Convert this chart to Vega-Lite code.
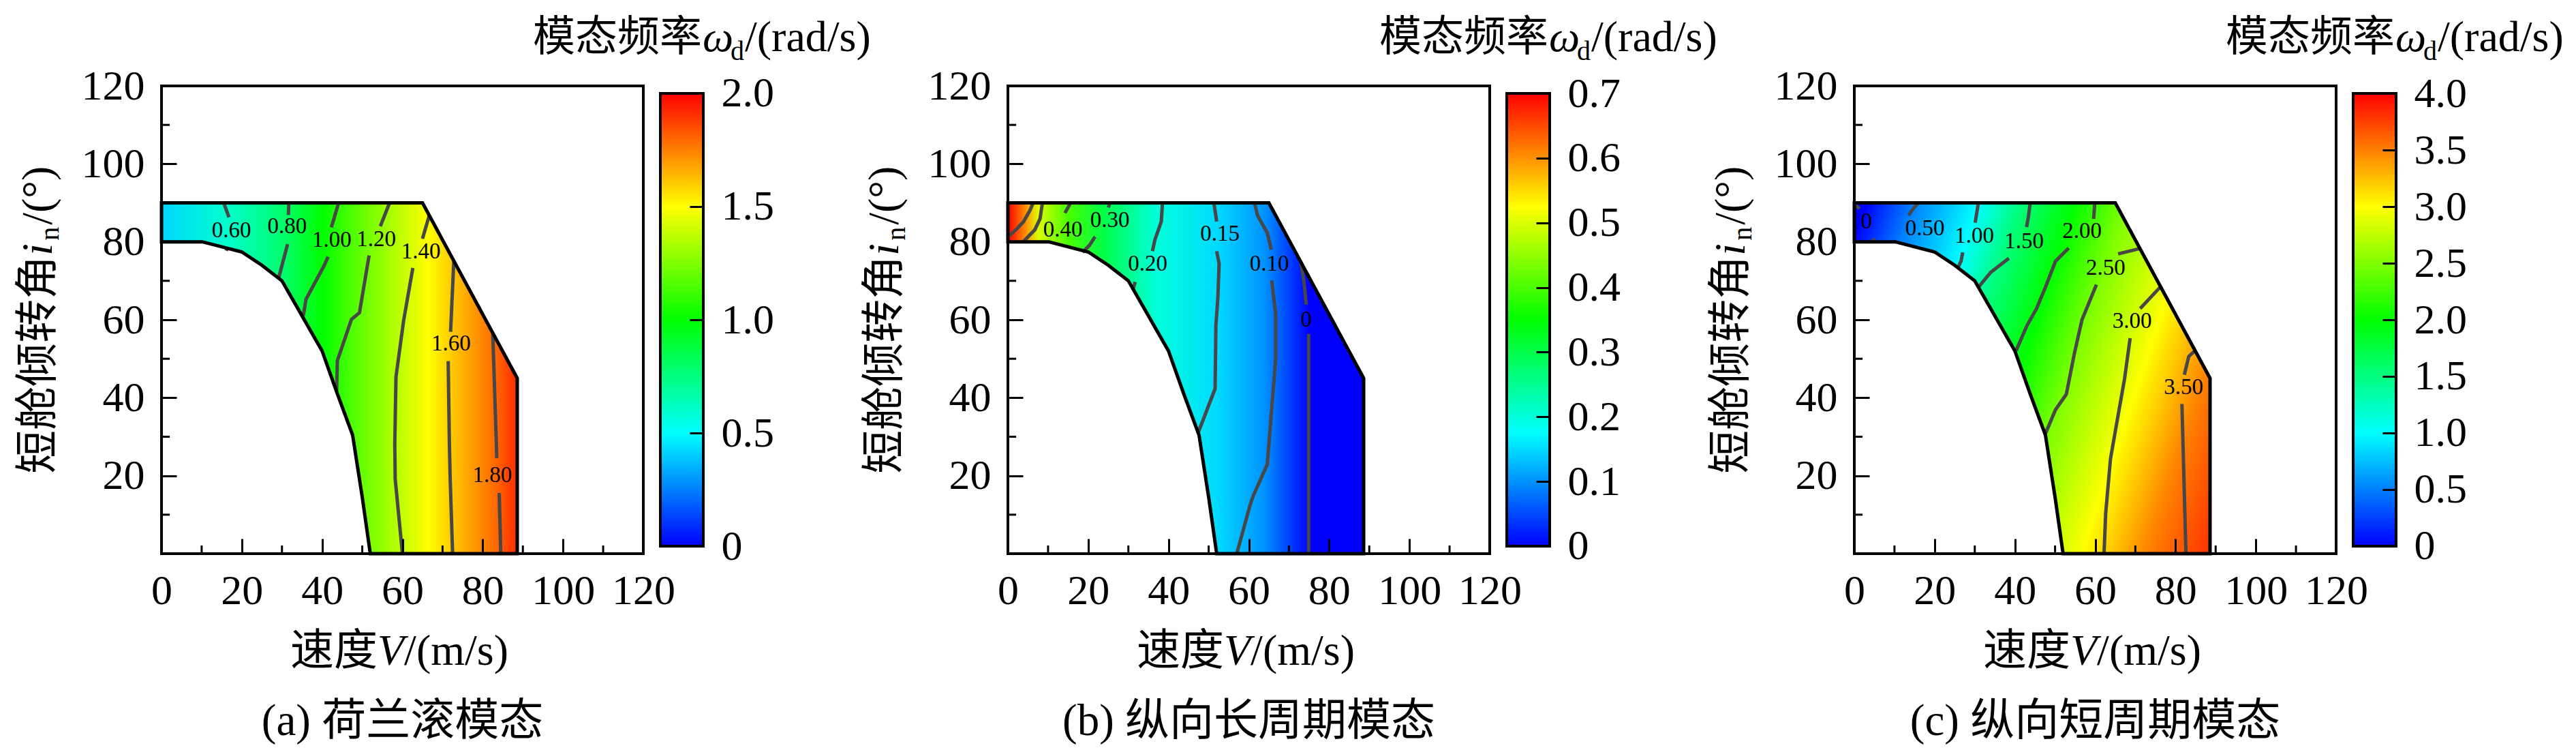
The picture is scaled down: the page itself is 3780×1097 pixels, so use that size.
{
"$schema": "https://vega.github.io/schema/vega-lite/v6.json",
"autosize": {"type": "pad"},
"padding": {"left": 23, "top": 22, "right": 5, "bottom": 5},
"background": "white",
"datasets": {
"boundary": [
{"x":0,"top":90,"bot":80},{"x":10.2,"top":90,"bot":80},{"x":20,"top":90,"bot":77.4},{"x":25,"top":90,"bot":74},{"x":30,"top":90,"bot":70},{"x":35,"top":90,"bot":61},{"x":40,"top":90,"bot":52},{"x":43.8,"top":90,"bot":41},{"x":47.6,"top":90,"bot":30.4},{"x":50,"top":90,"bot":14.5},{"x":52,"top":90,"bot":0},{"x":65,"top":90,"bot":0},{"x":88.6,"top":45,"bot":0}
],
"minor": [{"m":10},{"m":30},{"m":50},{"m":70},{"m":90},{"m":110}],
"contours": [
{"p":"a","id":"a1","o":0,"x":15.5,"y":90},{"p":"a","id":"a1","o":1,"x":16.8,"y":86.3},
{"p":"a","id":"a2","o":0,"x":16.5,"y":78.6},{"p":"a","id":"a2","o":1,"x":16.1,"y":77.7},
{"p":"a","id":"a3","o":0,"x":31.7,"y":90},{"p":"a","id":"a3","o":1,"x":31.6,"y":86.9},
{"p":"a","id":"a4","o":0,"x":31.4,"y":79.4},{"p":"a","id":"a4","o":1,"x":29.2,"y":70.8},
{"p":"a","id":"a5","o":0,"x":44.1,"y":90},{"p":"a","id":"a5","o":1,"x":42.3,"y":83.7},
{"p":"a","id":"a6","o":0,"x":41.5,"y":76.2},{"p":"a","id":"a6","o":1,"x":40.5,"y":73.9},{"p":"a","id":"a6","o":2,"x":36,"y":65.3},{"p":"a","id":"a6","o":3,"x":35.3,"y":61},
{"p":"a","id":"a7","o":0,"x":56.8,"y":90},{"p":"a","id":"a7","o":1,"x":54.5,"y":84},
{"p":"a","id":"a8","o":0,"x":51.7,"y":76.5},{"p":"a","id":"a8","o":1,"x":49.3,"y":61.8},{"p":"a","id":"a8","o":2,"x":47.3,"y":60.1},{"p":"a","id":"a8","o":3,"x":43.8,"y":49.5},{"p":"a","id":"a8","o":4,"x":43.6,"y":41.5},
{"p":"a","id":"a9","o":0,"x":66.7,"y":86.8},{"p":"a","id":"a9","o":1,"x":65,"y":80.8},
{"p":"a","id":"a10","o":0,"x":62.6,"y":73.3},{"p":"a","id":"a10","o":1,"x":60.3,"y":59.8},{"p":"a","id":"a10","o":2,"x":58.4,"y":45.4},{"p":"a","id":"a10","o":3,"x":58.1,"y":28.2},{"p":"a","id":"a10","o":4,"x":58.2,"y":19.2},{"p":"a","id":"a10","o":5,"x":60,"y":0},
{"p":"a","id":"a11","o":0,"x":72.8,"y":75.1},{"p":"a","id":"a11","o":1,"x":72,"y":56.9},
{"p":"a","id":"a12","o":0,"x":71.4,"y":49.4},{"p":"a","id":"a12","o":1,"x":71.7,"y":28.2},{"p":"a","id":"a12","o":2,"x":71.9,"y":19.2},{"p":"a","id":"a12","o":3,"x":72.5,"y":0},
{"p":"a","id":"a13","o":0,"x":82.5,"y":56.6},{"p":"a","id":"a13","o":1,"x":83.4,"y":28.2},{"p":"a","id":"a13","o":2,"x":83.5,"y":24.5},
{"p":"a","id":"a14","o":0,"x":84.1,"y":15.6},{"p":"a","id":"a14","o":1,"x":84.5,"y":0},
{"p":"b","id":"b1","o":0,"x":6.3,"y":90},{"p":"b","id":"b1","o":1,"x":5.5,"y":88.1},{"p":"b","id":"b1","o":2,"x":3.9,"y":85.2},{"p":"b","id":"b1","o":3,"x":2.3,"y":83.4},{"p":"b","id":"b1","o":4,"x":0.4,"y":81.6},
{"p":"b","id":"b2","o":0,"x":8.6,"y":90},{"p":"b","id":"b2","o":1,"x":8,"y":85.9},{"p":"b","id":"b2","o":2,"x":6.7,"y":83.1},{"p":"b","id":"b2","o":3,"x":3.9,"y":80.1},
{"p":"b","id":"b3","o":0,"x":15.6,"y":90},{"p":"b","id":"b3","o":1,"x":14.2,"y":87.4},
{"p":"b","id":"b4","o":0,"x":25.4,"y":90},{"p":"b","id":"b4","o":1,"x":25,"y":88.8},
{"p":"b","id":"b5","o":0,"x":21.7,"y":81.3},{"p":"b","id":"b5","o":1,"x":20.3,"y":79.1},{"p":"b","id":"b5","o":2,"x":18.6,"y":77.3},
{"p":"b","id":"b6","o":0,"x":38.5,"y":90},{"p":"b","id":"b6","o":1,"x":38.2,"y":85.2},{"p":"b","id":"b6","o":2,"x":36.6,"y":80.5},{"p":"b","id":"b6","o":3,"x":36,"y":77.6},
{"p":"b","id":"b7","o":0,"x":31.7,"y":69.7},{"p":"b","id":"b7","o":1,"x":31.1,"y":67.6},
{"p":"b","id":"b8","o":0,"x":51.3,"y":90},{"p":"b","id":"b8","o":1,"x":52,"y":85.2},
{"p":"b","id":"b9","o":0,"x":52,"y":77.6},{"p":"b","id":"b9","o":1,"x":52.6,"y":74.4},{"p":"b","id":"b9","o":2,"x":52.3,"y":65.8},{"p":"b","id":"b9","o":3,"x":51.8,"y":58.5},{"p":"b","id":"b9","o":4,"x":51.6,"y":42.3},{"p":"b","id":"b9","o":5,"x":47.3,"y":30.8},
{"p":"b","id":"b10","o":0,"x":61.4,"y":90},{"p":"b","id":"b10","o":1,"x":62.2,"y":86.7},{"p":"b","id":"b10","o":2,"x":64.6,"y":82.3},{"p":"b","id":"b10","o":3,"x":65.6,"y":78},
{"p":"b","id":"b11","o":0,"x":65.7,"y":70.1},{"p":"b","id":"b11","o":1,"x":66.7,"y":61.4},{"p":"b","id":"b11","o":2,"x":66.7,"y":49.9},{"p":"b","id":"b11","o":3,"x":64.6,"y":22.9},{"p":"b","id":"b11","o":4,"x":61,"y":14.6},{"p":"b","id":"b11","o":5,"x":60.3,"y":12.4},{"p":"b","id":"b11","o":6,"x":57,"y":0},
{"p":"b","id":"b12","o":0,"x":72.9,"y":75.1},{"p":"b","id":"b12","o":1,"x":73.7,"y":70.1},{"p":"b","id":"b12","o":2,"x":74.3,"y":63.9},
{"p":"b","id":"b13","o":0,"x":74.9,"y":56.4},{"p":"b","id":"b13","o":1,"x":74.9,"y":0},
{"p":"c","id":"c1","o":0,"x":0.4,"y":89.4},{"p":"c","id":"c1","o":1,"x":1.3,"y":88.5},
{"p":"c","id":"c2","o":0,"x":4.7,"y":80.9},{"p":"c","id":"c2","o":1,"x":5.1,"y":80},
{"p":"c","id":"c3","o":0,"x":16,"y":90},{"p":"c","id":"c3","o":1,"x":14.9,"y":88.8},{"p":"c","id":"c3","o":2,"x":13.5,"y":86.8},
{"p":"c","id":"c4","o":0,"x":30.9,"y":90},{"p":"c","id":"c4","o":1,"x":30.1,"y":84.9},
{"p":"c","id":"c5","o":0,"x":27,"y":77.3},{"p":"c","id":"c5","o":1,"x":26.6,"y":75.1},{"p":"c","id":"c5","o":2,"x":25.8,"y":73.3},
{"p":"c","id":"c6","o":0,"x":43.8,"y":90},{"p":"c","id":"c6","o":1,"x":43.4,"y":86.7},{"p":"c","id":"c6","o":2,"x":42.9,"y":83.8},
{"p":"c","id":"c7","o":0,"x":38.5,"y":75.8},{"p":"c","id":"c7","o":1,"x":34,"y":72.2},{"p":"c","id":"c7","o":2,"x":31.1,"y":68.6},
{"p":"c","id":"c8","o":0,"x":59.9,"y":90},{"p":"c","id":"c8","o":1,"x":59.6,"y":85.9},
{"p":"c","id":"c9","o":0,"x":53.4,"y":78.4},{"p":"c","id":"c9","o":1,"x":50.1,"y":75},{"p":"c","id":"c9","o":2,"x":47.7,"y":68.6},{"p":"c","id":"c9","o":3,"x":45.4,"y":62.9},{"p":"c","id":"c9","o":4,"x":43,"y":58.5},{"p":"c","id":"c9","o":5,"x":40.3,"y":52.1},
{"p":"c","id":"c10","o":0,"x":71.2,"y":78.3},{"p":"c","id":"c10","o":1,"x":65.7,"y":76.9},
{"p":"c","id":"c11","o":0,"x":60.3,"y":69},{"p":"c","id":"c11","o":1,"x":56.7,"y":60},{"p":"c","id":"c11","o":2,"x":54.8,"y":51.3},{"p":"c","id":"c11","o":3,"x":52.8,"y":40.9},{"p":"c","id":"c11","o":4,"x":50.1,"y":36.9},{"p":"c","id":"c11","o":5,"x":47.6,"y":30.8},
{"p":"c","id":"c12","o":0,"x":76.3,"y":68.5},{"p":"c","id":"c12","o":1,"x":71.2,"y":62.9},
{"p":"c","id":"c13","o":0,"x":68.7,"y":55.3},{"p":"c","id":"c13","o":1,"x":67.3,"y":44.8},{"p":"c","id":"c13","o":2,"x":65.7,"y":35.5},{"p":"c","id":"c13","o":3,"x":63.8,"y":24.3},{"p":"c","id":"c13","o":4,"x":62.6,"y":10.2},{"p":"c","id":"c13","o":5,"x":62.2,"y":0},
{"p":"c","id":"c14","o":0,"x":84.9,"y":52.1},{"p":"c","id":"c14","o":1,"x":83.3,"y":50.6},{"p":"c","id":"c14","o":2,"x":82.2,"y":45.9},
{"p":"c","id":"c15","o":0,"x":81.6,"y":38.4},{"p":"c","id":"c15","o":1,"x":82.6,"y":0}
],
"labels": [
{"p":"a","x":17.4,"y":82.9,"t":"0.60"},{"p":"a","x":31.3,"y":83.9,"t":"0.80"},{"p":"a","x":42.4,"y":80.5,"t":"1.00"},{"p":"a","x":53.5,"y":80.7,"t":"1.20"},{"p":"a","x":64.6,"y":77.5,"t":"1.40"},{"p":"a","x":72.1,"y":53.8,"t":"1.60"},{"p":"a","x":82.4,"y":20.1,"t":"1.80"},
{"p":"b","x":13.7,"y":83.1,"t":"0.40"},{"p":"b","x":25.4,"y":85.6,"t":"0.30"},{"p":"b","x":34.8,"y":74.4,"t":"0.20"},{"p":"b","x":52.8,"y":82,"t":"0.15"},{"p":"b","x":65.1,"y":74.4,"t":"0.10"},{"p":"b","x":74.3,"y":60,"t":"0"},
{"p":"c","x":3,"y":85.2,"t":"0"},{"p":"c","x":17.6,"y":83.4,"t":"0.50"},{"p":"c","x":29.9,"y":81.6,"t":"1.00"},{"p":"c","x":42.3,"y":80.2,"t":"1.50"},{"p":"c","x":56.7,"y":82.7,"t":"2.00"},{"p":"c","x":62.6,"y":73.3,"t":"2.50"},{"p":"c","x":69.2,"y":59.6,"t":"3.00"},{"p":"c","x":82,"y":42.7,"t":"3.50"}
],
"captions": [
{"p":"a","t":"(a) 荷兰滚模态"},{"p":"b","t":"(b) 纵向长周期模态"},{"p":"c","t":"(c) 纵向短周期模态"}
]
},
"spacing": -15,
"hconcat": [
{
"spacing": 25, "bounds": "flush",
"hconcat": [
{
"width": 707, "height": 686,
"layer": [
{"data": {"name": "boundary"},
 "mark": {"type": "area", "stroke": null, "fill": {"gradient": "linear", "x1": 0, "y1": 0, "x2": 1, "y2": 0, "stops": [{"offset": 0, "color": "#00d6ff"}, {"offset": 0.186, "color": "#00ffcc"}, {"offset": 0.35, "color": "#00ff66"}, {"offset": 0.451, "color": "#00ff00"}, {"offset": 0.564, "color": "#66ff00"}, {"offset": 0.688, "color": "#ccff00"}, {"offset": 0.75, "color": "#ffff00"}, {"offset": 0.813, "color": "#ffcc00"}, {"offset": 0.942, "color": "#ff6600"}, {"offset": 1, "color": "#ff2900"}]}},
 "encoding": {
  "x": {"field": "x", "type": "quantitative", "scale": {"domain": [0, 120], "nice": false, "zero": false}, "axis": {"orient": "bottom", "values": [0,20,40,60,80,100,120], "tickSize": -22, "labelPadding": 46, "title": null, "zindex": 1}},
  "y": {"field": "top", "type": "quantitative", "scale": {"domain": [0, 120], "nice": false, "zero": false}, "axis": {"orient": "left", "values": [20,40,60,80,100,120], "tickSize": -22, "labelPadding": 47, "title": null, "zindex": 1}},
  "y2": {"field": "bot"}}},
{"data": {"name": "contours"}, "transform": [{"filter": "datum.p === 'a'"}],
 "mark": {"type": "line", "stroke": "#474747", "strokeWidth": 5},
 "encoding": {"x": {"field": "x", "type": "quantitative", "scale": {"domain": [0, 120]}, "axis": {"title": null}}, "y": {"field": "y", "type": "quantitative", "scale": {"domain": [0, 120]}, "axis": {"title": null}}, "detail": {"field": "id", "type": "nominal"}, "order": {"field": "o", "type": "quantitative"}}},
{"data": {"name": "boundary"},
 "mark": {"type": "area", "fillOpacity": 0, "stroke": "black", "strokeWidth": 5, "strokeJoin": "miter"},
 "encoding": {"x": {"field": "x", "type": "quantitative", "scale": {"domain": [0, 120]}, "axis": {"title": null}}, "y": {"field": "top", "type": "quantitative", "scale": {"domain": [0, 120]}, "axis": {"title": null}}, "y2": {"field": "bot"}}},
{"data": {"name": "minor"},
 "mark": {"type": "rule", "stroke": "black", "strokeWidth": 3},
 "encoding": {"x": {"field": "m", "type": "quantitative", "scale": {"domain": [0, 120]}, "axis": {"title": null}}, "y": {"datum": 0, "type": "quantitative", "scale": {"domain": [0, 120]}, "axis": {"title": null}}, "y2": {"datum": 2.1}}},
{"data": {"name": "minor"},
 "mark": {"type": "rule", "stroke": "black", "strokeWidth": 3},
 "encoding": {"y": {"field": "m", "type": "quantitative", "scale": {"domain": [0, 120]}, "axis": {"title": null}}, "x": {"datum": 0, "type": "quantitative", "scale": {"domain": [0, 120]}, "axis": {"title": null}}, "x2": {"datum": 2.05}}},
{"data": {"name": "labels"}, "transform": [{"filter": "datum.p === 'a'"}],
 "mark": {"type": "text", "font": "Liberation Serif", "fontSize": 33, "fill": "black", "align": "center", "baseline": "middle"},
 "encoding": {"x": {"field": "x", "type": "quantitative", "scale": {"domain": [0, 120]}, "axis": {"title": null}}, "y": {"field": "y", "type": "quantitative", "scale": {"domain": [0, 120]}, "axis": {"title": null}}, "text": {"field": "t"}}},
{"data": {"name": "captions"}, "transform": [{"filter": "datum.p === 'a'"}],
 "mark": {"type": "text", "font": "Liberation Serif, Noto Sans CJK SC", "fontSize": 65, "fill": "black", "align": "center", "baseline": "alphabetic"},
 "encoding": {"x": {"datum": 60, "type": "quantitative", "scale": {"domain": [0, 120]}, "axis": {"title": null}}, "y": {"datum": -46.5, "type": "quantitative", "scale": {"domain": [0, 120]}, "axis": {"title": null}}, "text": {"field": "t"}}},
{"data": {"values": [{}]},
 "layer": [
  {"mark": {"type": "text", "text": "模态频率", "font": "Noto Sans CJK SC", "fontSize": 62, "fill": "black", "align": "left", "baseline": "alphabetic"}},
  {"mark": {"type": "text", "text": "ω", "font": "Liberation Serif", "fontStyle": "italic", "fontSize": 64, "fill": "black", "align": "left", "baseline": "alphabetic", "dx": 249}},
  {"mark": {"type": "text", "text": "d", "font": "Liberation Serif", "fontSize": 40, "fill": "black", "align": "left", "baseline": "alphabetic", "dx": 290, "dy": 13}},
  {"mark": {"type": "text", "text": "/(rad/s)", "font": "Liberation Serif", "fontSize": 64, "fill": "black", "align": "left", "baseline": "alphabetic", "dx": 311}}
 ],
 "encoding": {"x": {"datum": 92.5, "type": "quantitative", "scale": {"domain": [0, 120]}, "axis": {"title": null}}, "y": {"datum": 128.92, "type": "quantitative", "scale": {"domain": [0, 120]}, "axis": {"title": null}}}},
{"data": {"values": [{}]},
 "layer": [
  {"mark": {"type": "text", "text": "速度", "font": "Noto Sans CJK SC", "fontSize": 64, "fill": "black", "align": "left", "baseline": "alphabetic"}},
  {"mark": {"type": "text", "text": "V", "font": "Liberation Serif", "fontStyle": "italic", "fontSize": 64, "fill": "black", "align": "left", "baseline": "alphabetic", "dx": 128}},
  {"mark": {"type": "text", "text": "/(m/s)", "font": "Liberation Serif", "fontSize": 64, "fill": "black", "align": "left", "baseline": "alphabetic", "dx": 167}}
 ],
 "encoding": {"x": {"datum": 32.1, "type": "quantitative", "scale": {"domain": [0, 120]}, "axis": {"title": null}}, "y": {"datum": -28.5, "type": "quantitative", "scale": {"domain": [0, 120]}, "axis": {"title": null}}}},
{"data": {"values": [{}]},
 "layer": [
  {"mark": {"type": "text", "text": "短舱倾转角", "font": "Noto Sans CJK SC", "fontSize": 64, "fill": "black", "align": "left", "baseline": "alphabetic", "angle": 270}},
  {"mark": {"type": "text", "text": "i", "font": "Liberation Serif", "fontStyle": "italic", "fontSize": 64, "fill": "black", "align": "left", "baseline": "alphabetic", "angle": 270, "dx": 320}},
  {"mark": {"type": "text", "text": "n", "font": "Liberation Serif", "fontSize": 40, "fill": "black", "align": "left", "baseline": "alphabetic", "angle": 270, "dx": 342, "dy": 10}},
  {"mark": {"type": "text", "text": "/(°)", "font": "Liberation Serif", "fontSize": 64, "fill": "black", "align": "left", "baseline": "alphabetic", "angle": 270, "dx": 365}}
 ],
 "encoding": {"x": {"datum": -27.3, "type": "quantitative", "scale": {"domain": [0, 120]}, "axis": {"title": null}}, "y": {"datum": 20.5, "type": "quantitative", "scale": {"domain": [0, 120]}, "axis": {"title": null}}}}
]
},
{
"width": 63, "height": 686,
"view": {"stroke": null},
"data": {"values": [{"v0": 0, "v1": 2}]},
"mark": {"type": "rect", "stroke": "black", "strokeWidth": 4, "fill": {"gradient": "linear", "x1": 0, "y1": 1, "x2": 0, "y2": 0, "stops": [{"offset": 0, "color": "#0000ff"}, {"offset": 0.25, "color": "#00ffff"}, {"offset": 0.5, "color": "#00ff00"}, {"offset": 0.75, "color": "#ffff00"}, {"offset": 1, "color": "#ff0000"}]}},
"encoding": {
 "y": {"field": "v0", "type": "quantitative", "scale": {"domain": [-0.0331, 2.0331], "nice": false, "zero": false}, "axis": {"orient": "right", "values": [0, 0.5, 1, 1.5, 2], "labelExpr": "datum.value === 0 ? '0' : format(datum.value, '.1f')", "tickSize": -20, "labelPadding": 46, "title": null, "zindex": 1}},
 "y2": {"field": "v1"}}
}
]
},
{
"spacing": 25, "bounds": "flush",
"hconcat": [
{
"width": 707, "height": 686,
"layer": [
{"data": {"name": "boundary"},
 "mark": {"type": "area", "stroke": null, "fill": {"gradient": "linear", "x1": 0, "y1": 0, "x2": 1, "y2": 0, "stops": [{"offset": 0, "color": "#ff0000"}, {"offset": 0.051, "color": "#ff9200"}, {"offset": 0.085, "color": "#dbff00"}, {"offset": 0.169, "color": "#49ff00"}, {"offset": 0.271, "color": "#00ff49"}, {"offset": 0.418, "color": "#00ffdb"}, {"offset": 0.587, "color": "#00dbff"}, {"offset": 0.722, "color": "#0092ff"}, {"offset": 0.847, "color": "#0000ff"}, {"offset": 1, "color": "#0000ff"}]}},
 "encoding": {
  "x": {"field": "x", "type": "quantitative", "scale": {"domain": [0, 120], "nice": false, "zero": false}, "axis": {"orient": "bottom", "values": [0,20,40,60,80,100,120], "tickSize": -22, "labelPadding": 46, "title": null, "zindex": 1}},
  "y": {"field": "top", "type": "quantitative", "scale": {"domain": [0, 120], "nice": false, "zero": false}, "axis": {"orient": "left", "values": [20,40,60,80,100,120], "tickSize": -22, "labelPadding": 47, "title": null, "zindex": 1}},
  "y2": {"field": "bot"}}},
{"data": {"name": "contours"}, "transform": [{"filter": "datum.p === 'b'"}],
 "mark": {"type": "line", "stroke": "#474747", "strokeWidth": 5},
 "encoding": {"x": {"field": "x", "type": "quantitative", "scale": {"domain": [0, 120]}, "axis": {"title": null}}, "y": {"field": "y", "type": "quantitative", "scale": {"domain": [0, 120]}, "axis": {"title": null}}, "detail": {"field": "id", "type": "nominal"}, "order": {"field": "o", "type": "quantitative"}}},
{"data": {"name": "boundary"},
 "mark": {"type": "area", "fillOpacity": 0, "stroke": "black", "strokeWidth": 5, "strokeJoin": "miter"},
 "encoding": {"x": {"field": "x", "type": "quantitative", "scale": {"domain": [0, 120]}, "axis": {"title": null}}, "y": {"field": "top", "type": "quantitative", "scale": {"domain": [0, 120]}, "axis": {"title": null}}, "y2": {"field": "bot"}}},
{"data": {"name": "minor"},
 "mark": {"type": "rule", "stroke": "black", "strokeWidth": 3},
 "encoding": {"x": {"field": "m", "type": "quantitative", "scale": {"domain": [0, 120]}, "axis": {"title": null}}, "y": {"datum": 0, "type": "quantitative", "scale": {"domain": [0, 120]}, "axis": {"title": null}}, "y2": {"datum": 2.1}}},
{"data": {"name": "minor"},
 "mark": {"type": "rule", "stroke": "black", "strokeWidth": 3},
 "encoding": {"y": {"field": "m", "type": "quantitative", "scale": {"domain": [0, 120]}, "axis": {"title": null}}, "x": {"datum": 0, "type": "quantitative", "scale": {"domain": [0, 120]}, "axis": {"title": null}}, "x2": {"datum": 2.05}}},
{"data": {"name": "labels"}, "transform": [{"filter": "datum.p === 'b'"}],
 "mark": {"type": "text", "font": "Liberation Serif", "fontSize": 33, "fill": "black", "align": "center", "baseline": "middle"},
 "encoding": {"x": {"field": "x", "type": "quantitative", "scale": {"domain": [0, 120]}, "axis": {"title": null}}, "y": {"field": "y", "type": "quantitative", "scale": {"domain": [0, 120]}, "axis": {"title": null}}, "text": {"field": "t"}}},
{"data": {"name": "captions"}, "transform": [{"filter": "datum.p === 'b'"}],
 "mark": {"type": "text", "font": "Liberation Serif, Noto Sans CJK SC", "fontSize": 65, "fill": "black", "align": "center", "baseline": "alphabetic"},
 "encoding": {"x": {"datum": 60, "type": "quantitative", "scale": {"domain": [0, 120]}, "axis": {"title": null}}, "y": {"datum": -46.5, "type": "quantitative", "scale": {"domain": [0, 120]}, "axis": {"title": null}}, "text": {"field": "t"}}},
{"data": {"values": [{}]},
 "layer": [
  {"mark": {"type": "text", "text": "模态频率", "font": "Noto Sans CJK SC", "fontSize": 62, "fill": "black", "align": "left", "baseline": "alphabetic"}},
  {"mark": {"type": "text", "text": "ω", "font": "Liberation Serif", "fontStyle": "italic", "fontSize": 64, "fill": "black", "align": "left", "baseline": "alphabetic", "dx": 249}},
  {"mark": {"type": "text", "text": "d", "font": "Liberation Serif", "fontSize": 40, "fill": "black", "align": "left", "baseline": "alphabetic", "dx": 290, "dy": 13}},
  {"mark": {"type": "text", "text": "/(rad/s)", "font": "Liberation Serif", "fontSize": 64, "fill": "black", "align": "left", "baseline": "alphabetic", "dx": 311}}
 ],
 "encoding": {"x": {"datum": 92.5, "type": "quantitative", "scale": {"domain": [0, 120]}, "axis": {"title": null}}, "y": {"datum": 128.92, "type": "quantitative", "scale": {"domain": [0, 120]}, "axis": {"title": null}}}},
{"data": {"values": [{}]},
 "layer": [
  {"mark": {"type": "text", "text": "速度", "font": "Noto Sans CJK SC", "fontSize": 64, "fill": "black", "align": "left", "baseline": "alphabetic"}},
  {"mark": {"type": "text", "text": "V", "font": "Liberation Serif", "fontStyle": "italic", "fontSize": 64, "fill": "black", "align": "left", "baseline": "alphabetic", "dx": 128}},
  {"mark": {"type": "text", "text": "/(m/s)", "font": "Liberation Serif", "fontSize": 64, "fill": "black", "align": "left", "baseline": "alphabetic", "dx": 167}}
 ],
 "encoding": {"x": {"datum": 32.1, "type": "quantitative", "scale": {"domain": [0, 120]}, "axis": {"title": null}}, "y": {"datum": -28.5, "type": "quantitative", "scale": {"domain": [0, 120]}, "axis": {"title": null}}}},
{"data": {"values": [{}]},
 "layer": [
  {"mark": {"type": "text", "text": "短舱倾转角", "font": "Noto Sans CJK SC", "fontSize": 64, "fill": "black", "align": "left", "baseline": "alphabetic", "angle": 270}},
  {"mark": {"type": "text", "text": "i", "font": "Liberation Serif", "fontStyle": "italic", "fontSize": 64, "fill": "black", "align": "left", "baseline": "alphabetic", "angle": 270, "dx": 320}},
  {"mark": {"type": "text", "text": "n", "font": "Liberation Serif", "fontSize": 40, "fill": "black", "align": "left", "baseline": "alphabetic", "angle": 270, "dx": 342, "dy": 10}},
  {"mark": {"type": "text", "text": "/(°)", "font": "Liberation Serif", "fontSize": 64, "fill": "black", "align": "left", "baseline": "alphabetic", "angle": 270, "dx": 365}}
 ],
 "encoding": {"x": {"datum": -27.3, "type": "quantitative", "scale": {"domain": [0, 120]}, "axis": {"title": null}}, "y": {"datum": 20.5, "type": "quantitative", "scale": {"domain": [0, 120]}, "axis": {"title": null}}}}
]
},
{
"width": 63, "height": 686,
"view": {"stroke": null},
"data": {"values": [{"v0": 0, "v1": 0.7}]},
"mark": {"type": "rect", "stroke": "black", "strokeWidth": 4, "fill": {"gradient": "linear", "x1": 0, "y1": 1, "x2": 0, "y2": 0, "stops": [{"offset": 0, "color": "#0000ff"}, {"offset": 0.25, "color": "#00ffff"}, {"offset": 0.5, "color": "#00ff00"}, {"offset": 0.75, "color": "#ffff00"}, {"offset": 1, "color": "#ff0000"}]}},
"encoding": {
 "y": {"field": "v0", "type": "quantitative", "scale": {"domain": [-0.0116, 0.7116], "nice": false, "zero": false}, "axis": {"orient": "right", "values": [0, 0.1, 0.2, 0.3, 0.4, 0.5, 0.6, 0.7], "labelExpr": "datum.value === 0 ? '0' : format(datum.value, '.1f')", "tickSize": -20, "labelPadding": 46, "title": null, "zindex": 1}},
 "y2": {"field": "v1"}}
}
]
},
{
"spacing": 25, "bounds": "flush",
"hconcat": [
{
"width": 707, "height": 686,
"layer": [
{"data": {"name": "boundary"},
 "mark": {"type": "area", "stroke": null, "fill": {"gradient": "linear", "x1": 0, "y1": 0, "x2": 1.197, "y2": 0.39, "stops": [{"offset": 0, "color": "#0000ff"}, {"offset": 0.025, "color": "#0000ff"}, {"offset": 0.127, "color": "#0080ff"}, {"offset": 0.265, "color": "#00ffff"}, {"offset": 0.35, "color": "#00ff80"}, {"offset": 0.468, "color": "#00ff00"}, {"offset": 0.58, "color": "#80ff00"}, {"offset": 0.73, "color": "#ffff00"}, {"offset": 0.87, "color": "#ff8000"}, {"offset": 1, "color": "#ff3300"}]}},
 "encoding": {
  "x": {"field": "x", "type": "quantitative", "scale": {"domain": [0, 120], "nice": false, "zero": false}, "axis": {"orient": "bottom", "values": [0,20,40,60,80,100,120], "tickSize": -22, "labelPadding": 46, "title": null, "zindex": 1}},
  "y": {"field": "top", "type": "quantitative", "scale": {"domain": [0, 120], "nice": false, "zero": false}, "axis": {"orient": "left", "values": [20,40,60,80,100,120], "tickSize": -22, "labelPadding": 47, "title": null, "zindex": 1}},
  "y2": {"field": "bot"}}},
{"data": {"name": "contours"}, "transform": [{"filter": "datum.p === 'c'"}],
 "mark": {"type": "line", "stroke": "#474747", "strokeWidth": 5},
 "encoding": {"x": {"field": "x", "type": "quantitative", "scale": {"domain": [0, 120]}, "axis": {"title": null}}, "y": {"field": "y", "type": "quantitative", "scale": {"domain": [0, 120]}, "axis": {"title": null}}, "detail": {"field": "id", "type": "nominal"}, "order": {"field": "o", "type": "quantitative"}}},
{"data": {"name": "boundary"},
 "mark": {"type": "area", "fillOpacity": 0, "stroke": "black", "strokeWidth": 5, "strokeJoin": "miter"},
 "encoding": {"x": {"field": "x", "type": "quantitative", "scale": {"domain": [0, 120]}, "axis": {"title": null}}, "y": {"field": "top", "type": "quantitative", "scale": {"domain": [0, 120]}, "axis": {"title": null}}, "y2": {"field": "bot"}}},
{"data": {"name": "minor"},
 "mark": {"type": "rule", "stroke": "black", "strokeWidth": 3},
 "encoding": {"x": {"field": "m", "type": "quantitative", "scale": {"domain": [0, 120]}, "axis": {"title": null}}, "y": {"datum": 0, "type": "quantitative", "scale": {"domain": [0, 120]}, "axis": {"title": null}}, "y2": {"datum": 2.1}}},
{"data": {"name": "minor"},
 "mark": {"type": "rule", "stroke": "black", "strokeWidth": 3},
 "encoding": {"y": {"field": "m", "type": "quantitative", "scale": {"domain": [0, 120]}, "axis": {"title": null}}, "x": {"datum": 0, "type": "quantitative", "scale": {"domain": [0, 120]}, "axis": {"title": null}}, "x2": {"datum": 2.05}}},
{"data": {"name": "labels"}, "transform": [{"filter": "datum.p === 'c'"}],
 "mark": {"type": "text", "font": "Liberation Serif", "fontSize": 33, "fill": "black", "align": "center", "baseline": "middle"},
 "encoding": {"x": {"field": "x", "type": "quantitative", "scale": {"domain": [0, 120]}, "axis": {"title": null}}, "y": {"field": "y", "type": "quantitative", "scale": {"domain": [0, 120]}, "axis": {"title": null}}, "text": {"field": "t"}}},
{"data": {"name": "captions"}, "transform": [{"filter": "datum.p === 'c'"}],
 "mark": {"type": "text", "font": "Liberation Serif, Noto Sans CJK SC", "fontSize": 65, "fill": "black", "align": "center", "baseline": "alphabetic"},
 "encoding": {"x": {"datum": 60, "type": "quantitative", "scale": {"domain": [0, 120]}, "axis": {"title": null}}, "y": {"datum": -46.5, "type": "quantitative", "scale": {"domain": [0, 120]}, "axis": {"title": null}}, "text": {"field": "t"}}},
{"data": {"values": [{}]},
 "layer": [
  {"mark": {"type": "text", "text": "模态频率", "font": "Noto Sans CJK SC", "fontSize": 62, "fill": "black", "align": "left", "baseline": "alphabetic"}},
  {"mark": {"type": "text", "text": "ω", "font": "Liberation Serif", "fontStyle": "italic", "fontSize": 64, "fill": "black", "align": "left", "baseline": "alphabetic", "dx": 249}},
  {"mark": {"type": "text", "text": "d", "font": "Liberation Serif", "fontSize": 40, "fill": "black", "align": "left", "baseline": "alphabetic", "dx": 290, "dy": 13}},
  {"mark": {"type": "text", "text": "/(rad/s)", "font": "Liberation Serif", "fontSize": 64, "fill": "black", "align": "left", "baseline": "alphabetic", "dx": 311}}
 ],
 "encoding": {"x": {"datum": 92.5, "type": "quantitative", "scale": {"domain": [0, 120]}, "axis": {"title": null}}, "y": {"datum": 128.92, "type": "quantitative", "scale": {"domain": [0, 120]}, "axis": {"title": null}}}},
{"data": {"values": [{}]},
 "layer": [
  {"mark": {"type": "text", "text": "速度", "font": "Noto Sans CJK SC", "fontSize": 64, "fill": "black", "align": "left", "baseline": "alphabetic"}},
  {"mark": {"type": "text", "text": "V", "font": "Liberation Serif", "fontStyle": "italic", "fontSize": 64, "fill": "black", "align": "left", "baseline": "alphabetic", "dx": 128}},
  {"mark": {"type": "text", "text": "/(m/s)", "font": "Liberation Serif", "fontSize": 64, "fill": "black", "align": "left", "baseline": "alphabetic", "dx": 167}}
 ],
 "encoding": {"x": {"datum": 32.1, "type": "quantitative", "scale": {"domain": [0, 120]}, "axis": {"title": null}}, "y": {"datum": -28.5, "type": "quantitative", "scale": {"domain": [0, 120]}, "axis": {"title": null}}}},
{"data": {"values": [{}]},
 "layer": [
  {"mark": {"type": "text", "text": "短舱倾转角", "font": "Noto Sans CJK SC", "fontSize": 64, "fill": "black", "align": "left", "baseline": "alphabetic", "angle": 270}},
  {"mark": {"type": "text", "text": "i", "font": "Liberation Serif", "fontStyle": "italic", "fontSize": 64, "fill": "black", "align": "left", "baseline": "alphabetic", "angle": 270, "dx": 320}},
  {"mark": {"type": "text", "text": "n", "font": "Liberation Serif", "fontSize": 40, "fill": "black", "align": "left", "baseline": "alphabetic", "angle": 270, "dx": 342, "dy": 10}},
  {"mark": {"type": "text", "text": "/(°)", "font": "Liberation Serif", "fontSize": 64, "fill": "black", "align": "left", "baseline": "alphabetic", "angle": 270, "dx": 365}}
 ],
 "encoding": {"x": {"datum": -27.3, "type": "quantitative", "scale": {"domain": [0, 120]}, "axis": {"title": null}}, "y": {"datum": 20.5, "type": "quantitative", "scale": {"domain": [0, 120]}, "axis": {"title": null}}}}
]
},
{
"width": 63, "height": 686,
"view": {"stroke": null},
"data": {"values": [{"v0": 0, "v1": 4}]},
"mark": {"type": "rect", "stroke": "black", "strokeWidth": 4, "fill": {"gradient": "linear", "x1": 0, "y1": 1, "x2": 0, "y2": 0, "stops": [{"offset": 0, "color": "#0000ff"}, {"offset": 0.25, "color": "#00ffff"}, {"offset": 0.5, "color": "#00ff00"}, {"offset": 0.75, "color": "#ffff00"}, {"offset": 1, "color": "#ff0000"}]}},
"encoding": {
 "y": {"field": "v0", "type": "quantitative", "scale": {"domain": [-0.0663, 4.0663], "nice": false, "zero": false}, "axis": {"orient": "right", "values": [0, 0.5, 1, 1.5, 2, 2.5, 3, 3.5, 4], "labelExpr": "datum.value === 0 ? '0' : format(datum.value, '.1f')", "tickSize": -20, "labelPadding": 46, "title": null, "zindex": 1}},
 "y2": {"field": "v1"}}
}
]
}
],
"config": {
 "view": {"stroke": "black", "strokeWidth": 4},
 "axis": {"labelFont": "Liberation Serif", "labelFontSize": 62, "labelColor": "black", "tickColor": "black", "tickWidth": 3, "domain": false, "grid": false, "labelFlush": false, "labelOverlap": false, "labelBound": false}
}
}
